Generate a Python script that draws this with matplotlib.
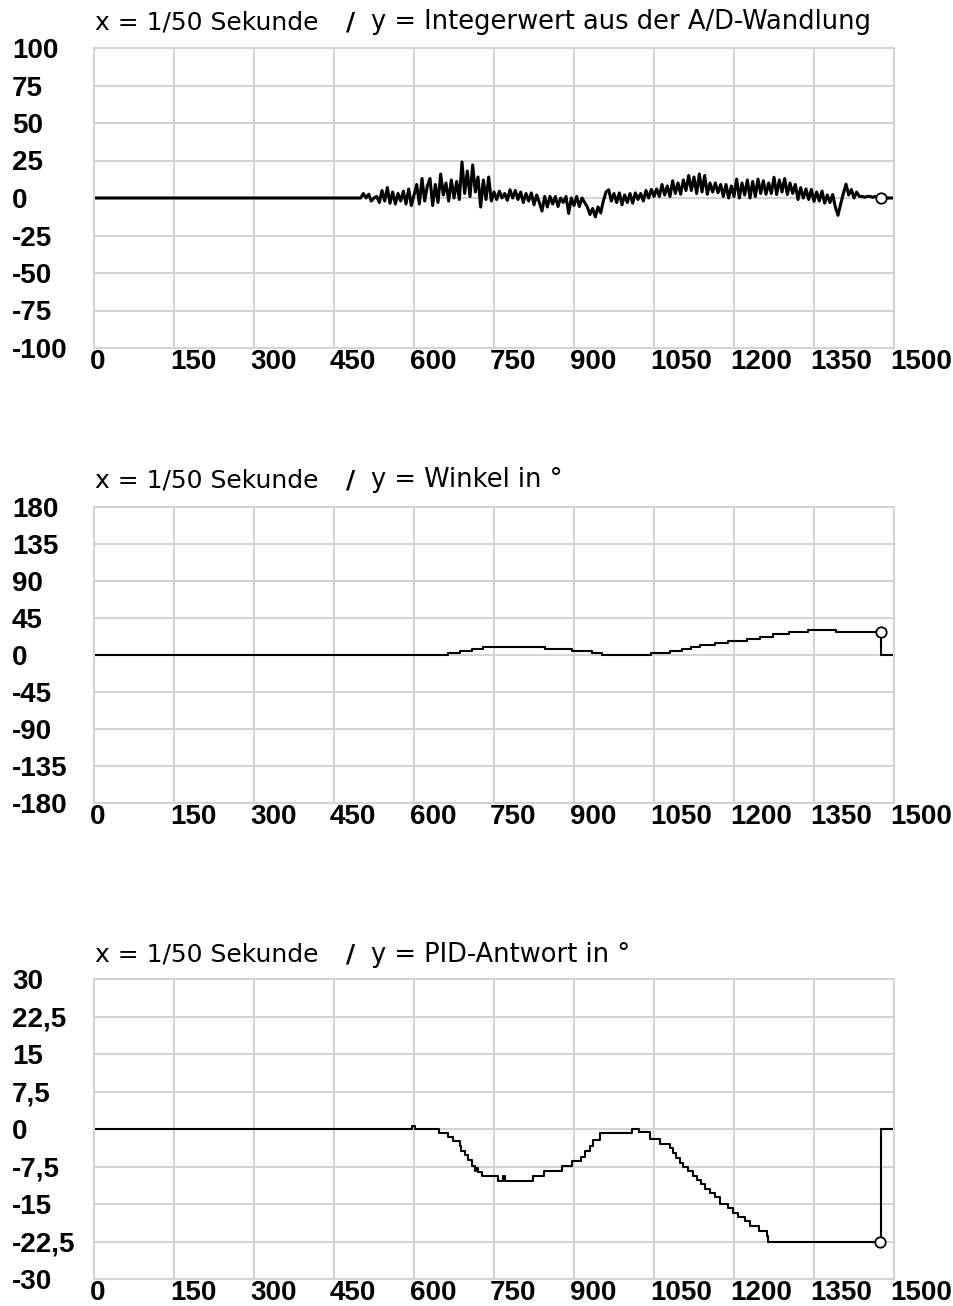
import numpy as np
import matplotlib
matplotlib.use('Agg')
import matplotlib.pyplot as plt
from matplotlib.transforms import ScaledTranslation

# x axis in 1/50 s
X_TICKS = [0, 150, 300, 450, 600, 750, 900, 1050, 1200, 1350, 1500]

# raw A/D signal, sampled every 5 units starting at 480 (zero before)
AD_START = 480
AD_STEP = 5
AD_VALUES = [
    0, 0, 0, 0, 0, 3, 0, 2.5, -2, 0,
    1, -3, 5, -2, 7, -3.5, 4, -4, 3, -2,
    4.5, -4, 6, -5, 2, 9, -4, 13, -2, 8,
    13, -5, 9, -3, 16, 2, 10, -2, 12, 0,
    11, -1, 24, 3, 18, 1, 22, 4, 14, -6,
    12, -1, 14, -2, 4, -1, 4.5, 0, 3, -1.5,
    5.5, 0, 5, -1, 4, -3, 3, -2, 3.4, -4.5,
    2, -3, -8.7, 1, -6, 1, -4, 1, -5.7, 0,
    -3, 1, -10.3, 0, -5, 1, -5.7, 0, -3, -6,
    -11, -7, -12.6, -6, -10, -2, 4, 5.5, -2, 3,
    -3, 3.4, -4.5, 2, -3, 3, -3.4, 3.4, -1, 3,
    -2, 5, 0, 5.7, 1, 6, 1, 9, 2, 8,
    1, 11.5, 3, 10, 2.5, 12, 5, 15, 5, 14,
    3, 16, 4, 15, 2.5, 10, 4, 10, 3.5, 9,
    1, 9, 0, 8, 1, 12.6, 0, 10, 2, 12,
    0, 11, 1, 12.6, 3, 11.5, 2.5, 10, 3, 13.8,
    2.3, 12, 4, 13, 2.3, 10, 3, 9, -1, 6.9,
    0, 6, -1, 5.7, -2.3, 4, -2, 4.6, -3.4, 2,
    -3, 2.3, -6, -11.5, -4, 3, 9.2, 2, 5.7, 0,
    4, 1.1, 1.1, 0.5, 1.1, 1.1, 0.5, 1.1, 0, 0,
]
AD_YTICKS = [100, 75, 50, 25, 0, -25, -50, -75, -100]
AD_YLABELS = ['100', '75', '50', '25', '0', '-25', '-50', '-75', '-100']

# angle (stepped)
ANGLE_X = [0, 664, 686, 708, 730, 846, 896, 933, 952, 1045, 1080, 1102,
           1120, 1137, 1164, 1188, 1224, 1249, 1274, 1304, 1338, 1392, 1476, 1500]
ANGLE_Y = [0, 2.5, 5, 7.5, 10, 7.5, 5, 2.5, 0, 2.5, 5, 7.5,
           10, 12.5, 15, 17.5, 20, 22.5, 25, 27.5, 30, 28, 0, 0]
ANGLE_YTICKS = [180, 135, 90, 45, 0, -45, -90, -135, -180]
ANGLE_YLABELS = ['180', '135', '90', '45', '0', '-45', '-90', '-135', '-180']

# PID answer (stepped)
PID_X = [0, 597, 601, 646, 664, 674, 686, 689, 696, 702, 708, 714, 717, 720,
         727, 758, 767, 770, 824, 843, 877, 896, 914, 921, 930, 936, 949,
         1008, 1021, 1042, 1061, 1080, 1086, 1092, 1099, 1105, 1114, 1124,
         1130, 1139, 1146, 1155, 1164, 1174, 1189, 1199, 1208, 1221, 1230,
         1246, 1261, 1264, 1476, 1500]
PID_Y = [0, 0.6, 0, -0.7, -1.6, -2.3, -3.3, -4.4, -5.2, -6.2, -7.3, -8.3, -7.7, -8.6,
         -9.3, -10.3, -9.3, -10.3, -9.3, -8.4, -7.3, -6.4, -5.5, -4.4, -3.3, -2.2, -0.7,
         0, -0.6, -2.0, -2.9, -3.8, -4.7, -5.7, -6.7, -7.6, -8.4, -9.3,
         -10.1, -10.9, -12.0, -12.8, -13.6, -14.9, -15.8, -16.7, -17.6, -18.4, -19.3,
         -20.3, -21.4, -22.5, 0, 0]
PID_YTICKS = [30, 22.5, 15, 7.5, 0, -7.5, -15, -22.5, -30]
PID_YLABELS = ['30', '22,5', '15', '7,5', '0', '-7,5', '-15', '-22,5', '-30']

# last measured point (circle)
END_X = [1475, 1475, 1474]
END_Y = [0, 28, -22.5]

TITLE_LEFT = 'x = 1/50 Sekunde'
TITLE_RIGHT = ['y = Integerwert aus der A/D-Wandlung',
               'y = Winkel in °',
               'y = PID-Antwort in °']

W, H = 954, 1306
GRID = '#d4d4d4'
TICK_FONT = dict(family=['Liberation Sans', 'DejaVu Sans'], weight='bold', size=20)

fig = plt.figure(figsize=(W / 100, H / 100), dpi=100)
fig.patch.set_facecolor('white')


def px_axes(left, top, width, height):
    return fig.add_axes([left / W, 1 - (top + height) / H, width / W, height / H])


def setup_panel(ax, yticks, ylabels, ylim):
    ax.set_xlim(0, 1500)
    ax.set_ylim(*ylim)
    ax.set_xticks(X_TICKS)
    ax.set_xticklabels([str(t) for t in X_TICKS])
    ax.set_yticks(yticks)
    ax.set_yticklabels(ylabels)
    ax.grid(True, color=GRID, linewidth=1.5)
    ax.set_axisbelow(True)
    for s in ax.spines.values():
        s.set_color(GRID)
        s.set_linewidth(1.5)
    ax.tick_params(axis='y', length=0, pad=59)
    ax.tick_params(axis='x', length=0, pad=1)
    shift = ScaledTranslation(-4 / 100, 0, fig.dpi_scale_trans)
    for lab in ax.get_xticklabels():
        lab.set_ha('left')
        lab.set_fontproperties(TICK_FONT)
        lab.set_transform(lab.get_transform() + shift)
    for lab in ax.get_yticklabels():
        lab.set_ha('left')
        lab.set_fontproperties(TICK_FONT)


tops = [48, 507, 979]
title_y = [22, 480, 955]
heights = [300, 296, 300]

axes = [px_axes(94, tops[i], 800, heights[i]) for i in range(3)]

# panel 1: A/D values
ax = axes[0]
setup_panel(ax, AD_YTICKS, AD_YLABELS, (-100, 100))
t1 = AD_START + AD_STEP * np.arange(len(AD_VALUES))
xs = np.concatenate([[0], t1, [1500]])
ys = np.concatenate([[0], AD_VALUES, [0]])
ax.plot(xs, ys, color='black', linewidth=2.2)

# panel 2: angle
ax = axes[1]
setup_panel(ax, ANGLE_YTICKS, ANGLE_YLABELS, (-180, 180))
ax.plot(ANGLE_X, ANGLE_Y, color='black', linewidth=1.5, drawstyle='steps-post')

# panel 3: PID
ax = axes[2]
setup_panel(ax, PID_YTICKS, PID_YLABELS, (-30, 30))
ax.plot(PID_X, PID_Y, color='black', linewidth=1.5, drawstyle='steps-post')

for i, ax in enumerate(axes):
    ax.plot([END_X[i]], [END_Y[i]], 'o', markersize=7.5, markerfacecolor='white',
            markeredgecolor='black', markeredgewidth=1.3, zorder=5, clip_on=False)
    fig.text(95 / W, 1 - title_y[i] / H, TITLE_LEFT, fontsize=18, va='center', ha='left',
             family='DejaVu Sans')
    fig.text(346 / W, 1 - title_y[i] / H, '/', fontsize=18, va='center', ha='left',
             family='DejaVu Sans', weight='bold')
    fig.text(371 / W, 1 - title_y[i] / H, TITLE_RIGHT[i], fontsize=18.5, va='center', ha='left',
             family='DejaVu Sans')

fig.savefig('out.png', dpi=100, facecolor='white')
